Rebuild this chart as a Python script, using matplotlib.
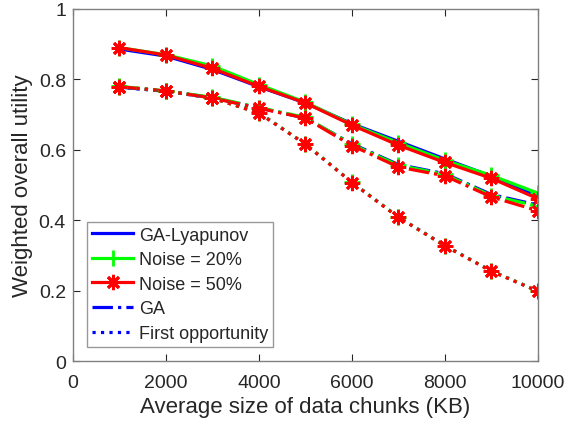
import matplotlib
matplotlib.use("Agg")
import matplotlib.pyplot as plt

plt.rcParams['font.family'] = ['Liberation Sans', 'DejaVu Sans']

# Average data chunk size (KB)
chunk_kb = [1000, 2000, 3000, 4000, 5000, 6000, 7000, 8000, 9000, 10000]

# GA-Lyapunov utility under three noise levels
lyap_clean = [0.886, 0.866, 0.828, 0.779, 0.733, 0.674, 0.624, 0.574, 0.525, 0.468]
lyap_n20 = [0.890, 0.870, 0.838, 0.785, 0.735, 0.672, 0.620, 0.570, 0.527, 0.477]
lyap_n50 = [0.890, 0.869, 0.831, 0.780, 0.733, 0.670, 0.613, 0.564, 0.519, 0.461]

# GA utility under three noise levels
ga_clean = [0.778, 0.766, 0.748, 0.719, 0.690, 0.617, 0.558, 0.532, 0.473, 0.443]
ga_n20 = [0.780, 0.767, 0.749, 0.720, 0.692, 0.615, 0.556, 0.530, 0.470, 0.440]
ga_n50 = [0.779, 0.767, 0.747, 0.718, 0.690, 0.612, 0.551, 0.526, 0.466, 0.427]

# First-opportunity utility under three noise levels
fo_clean = [0.778, 0.766, 0.747, 0.705, 0.616, 0.508, 0.409, 0.328, 0.256, 0.199]
fo_n20 = [0.779, 0.767, 0.747, 0.705, 0.617, 0.508, 0.409, 0.327, 0.256, 0.199]
fo_n50 = [0.779, 0.767, 0.747, 0.704, 0.616, 0.507, 0.408, 0.327, 0.255, 0.198]

x_ticks = [0, 2000, 4000, 6000, 8000, 10000]
y_ticks = [0, 0.2, 0.4, 0.6, 0.8, 1.0]
y_tick_labels = ['0', '0.2', '0.4', '0.6', '0.8', '1']

BLUE = '#0000ff'
GREEN = '#00ff00'
RED = '#ff0000'
ASTERISK = (8, 2, 0)

fig = plt.figure(figsize=(5.74, 4.31), dpi=100)
ax = fig.add_axes([0.127, 0.160, 0.810, 0.817])

lw = 2.3
ms_star = 11
ms_plus = 11

series = [
    (lyap_clean, '-', BLUE, None, 'GA-Lyapunov'),
    (lyap_n20, '-', GREEN, '+', 'Noise = 20%'),
    (lyap_n50, '-', RED, ASTERISK, 'Noise = 50%'),
    (ga_clean, '-.', BLUE, None, 'GA'),
    (ga_n20, '-.', GREEN, '+', None),
    (ga_n50, '-.', RED, ASTERISK, None),
    (fo_clean, ':', BLUE, None, 'First opportunity'),
    (fo_n20, ':', GREEN, '+', None),
    (fo_n50, ':', RED, ASTERISK, None),
]

handles = {}
for vals, ls, col, mk, lab in series:
    ms = ms_star if mk == ASTERISK else ms_plus
    line, = ax.plot(chunk_kb, vals, linestyle=ls, color=col, linewidth=lw,
                    marker=mk, markersize=ms, markeredgewidth=2.0,
                    markeredgecolor=col, markerfacecolor=col)
    if lab is not None:
        handles[lab] = line

ax.set_xlim(0, 10000)
ax.set_ylim(0, 1)
ax.set_xticks(x_ticks)
ax.set_xticklabels([str(t) for t in x_ticks])
ax.set_yticks(y_ticks)
ax.set_yticklabels(y_tick_labels)

axis_gray = '#808080'
text_gray = '#262626'
for side in ax.spines.values():
    side.set_color(axis_gray)
    side.set_linewidth(1.0)
ax.tick_params(direction='in', length=5, width=0.8, color=text_gray,
               labelsize=14, labelcolor=text_gray, top=True, right=True)
ax.tick_params(axis='x', pad=9)
ax.tick_params(axis='y', pad=5)

ax.set_xlabel('Average size of data chunks (KB)', fontsize=16,
              color=text_gray, labelpad=4)
ax.set_ylabel('Weighted overall utility', fontsize=16,
              color=text_gray, labelpad=4)

order = ['GA-Lyapunov', 'Noise = 20%', 'Noise = 50%', 'GA', 'First opportunity']
leg = ax.legend([handles[k] for k in order], order, loc='lower left',
                bbox_to_anchor=(0.030, 0.040), borderaxespad=0,
                fontsize=13, frameon=True, fancybox=False,
                handlelength=2.3, handletextpad=0.3, labelspacing=0.42,
                borderpad=0.28)
leg.get_frame().set_edgecolor(axis_gray)
leg.get_frame().set_linewidth(1.0)
for t in leg.get_texts():
    t.set_color(text_gray)

fig.savefig('out.png', dpi=100)
